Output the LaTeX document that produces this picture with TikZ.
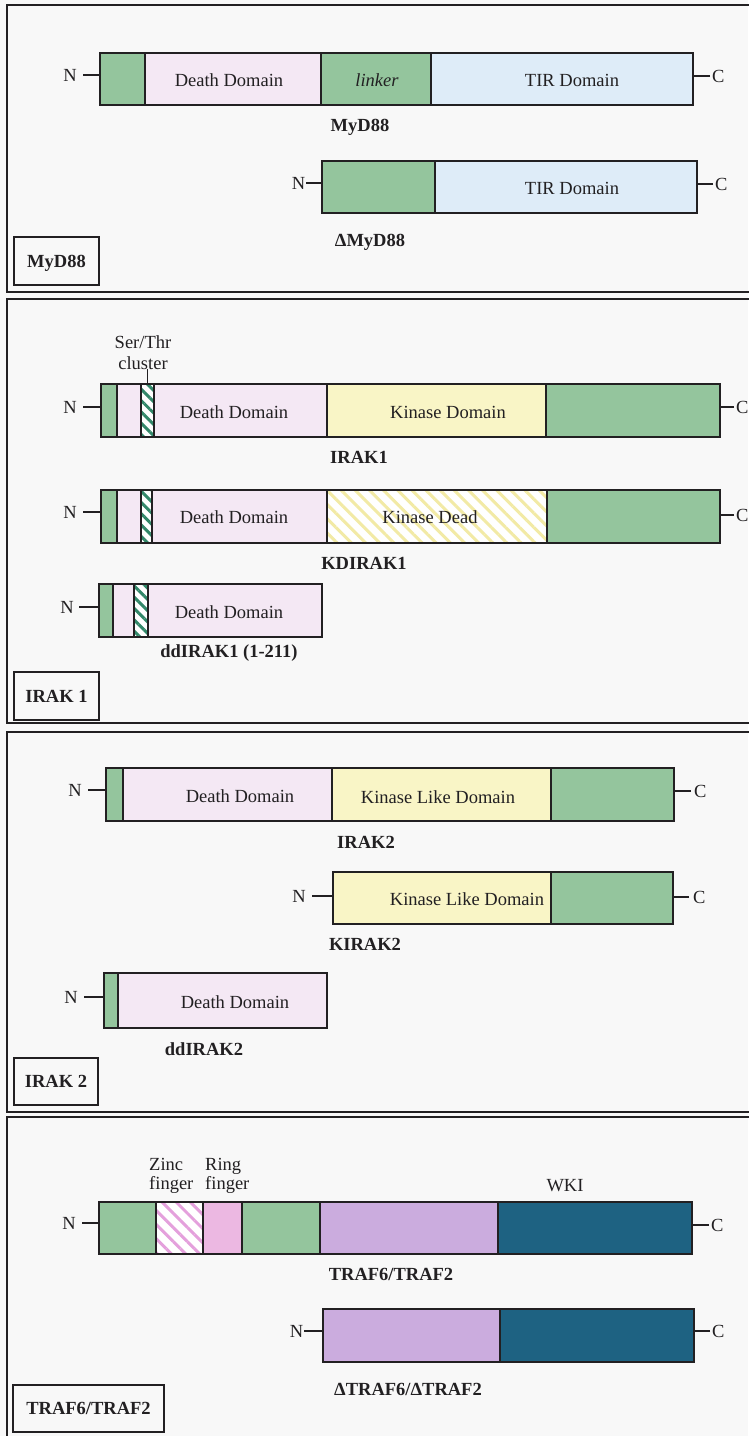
\documentclass[tikz,border=0pt]{standalone}
\usepackage{fontspec}
\setmainfont{Liberation Serif}
\usetikzlibrary{patterns.meta}
\definecolor{bgc}{RGB}{248,248,248}
\definecolor{ink}{RGB}{34,32,34}
\definecolor{grn}{RGB}{148,197,157}
\definecolor{ddp}{RGB}{244,232,244}
\definecolor{tirb}{RGB}{222,236,248}
\definecolor{kiny}{RGB}{249,245,198}
\definecolor{kdy}{RGB}{242,234,165}
\definecolor{stg}{RGB}{50,135,105}
\definecolor{trp}{RGB}{203,172,222}
\definecolor{wkib}{RGB}{30,98,130}
\definecolor{ringp}{RGB}{236,184,226}
\definecolor{zincp}{RGB}{228,160,220}
\tikzset{
  segbox/.style={draw=ink, line width=2.5pt, inner sep=0pt, outer sep=0pt, anchor=north west},
  gseg/.style={fill=grn},
  dseg/.style={fill=ddp},
  tseg/.style={fill=tirb},
  kseg/.style={fill=kiny},
  pseg/.style={fill=trp},
  wseg/.style={fill=wkib},
  rseg/.style={fill=ringp},
  sthatch/.style={preaction={fill=white}, pattern={Lines[angle=-45,distance=8pt,line width=3pt]}, pattern color=stg},
  kdhatch/.style={preaction={fill=white}, pattern={Lines[angle=-45,distance=10pt,line width=3pt]}, pattern color=kdy},
  znhatch/.style={preaction={fill=white}, pattern={Lines[angle=-45,distance=10pt,line width=3pt]}, pattern color=zincp},
  txt/.style={inner sep=0pt, anchor=base, font=\fontsize{18.5}{21}\selectfont, text=ink},
  itxt/.style={txt, font=\itshape\fontsize{18.5}{21}\selectfont},
  captxt/.style={txt, font=\bfseries\fontsize{18.5}{21}\selectfont},
  ltxt/.style={txt, anchor=base west},
  nterm/.style={inner xsep=6pt, inner ysep=0pt, anchor=east, font=\fontsize{18.5}{21}\selectfont, text=ink},
  cterm/.style={inner xsep=2pt, inner ysep=0pt, anchor=west, font=\fontsize{18.5}{21}\selectfont, text=ink},
  conn/.style={draw=ink, line width=2.5pt},
  frame/.style={draw=ink, line width=2.3pt},
  labbox/.style={draw=ink, line width=2.5pt, inner sep=0pt, text height=12.4pt, text depth=0pt, font=\bfseries\fontsize{18.5}{21}\selectfont, text=ink}
}
\newcommand{\protseg}[6]{\node[segbox,#2,minimum width={(#4-#3)*1pt},minimum height={(#6-#5)*1pt}] (#1) at (#3,#5) {};}
\begin{document}
\begin{tikzpicture}[x=1pt,y=-1pt]
\useasboundingbox (0,0) rectangle (748,1436);
\fill[bgc] (0,0) rectangle (748,1436);
% panel frames
\draw[frame] (7,5) rectangle (775,292);
\draw[frame] (7,299) rectangle (775,723);
\draw[frame] (7,732) rectangle (775,1112);
\draw[frame] (775,1445) -- (7,1445) -- (7,1117) -- (775,1117);

% ===== MyD88 panel =====
\protseg{m1a}{gseg}{100}{145}{53}{105}
\protseg{m1b}{dseg}{145}{321}{53}{105}
\protseg{m1c}{gseg}{321}{431}{53}{105}
\protseg{m1d}{tseg}{431}{693}{53}{105}
\node[txt] (m1bt) at (229,86) {Death Domain};
\node[itxt] (m1ct) at (377,86) {linker};
\node[txt] (m1dt) at (572,86) {TIR Domain};
\node[nterm] (nm1) at (83,75) {N};
\node[cterm] (cm1) at (710,76) {C};
\draw[conn] (nm1.east) -- (nm1.east -| m1a.west);
\draw[conn] (cm1.west) -- (cm1.west -| m1d.east);
\node[captxt] (capm1) at (360,131) {MyD88};

\protseg{m2a}{gseg}{322}{435}{161}{213}
\protseg{m2b}{tseg}{435}{697}{161}{213}
\node[txt] (m2bt) at (572,194) {TIR Domain};
\node[nterm, inner xsep=0.5pt] (nm2) at (306,183) {N};
\node[cterm] (cm2) at (713,184) {C};
\draw[conn] (nm2.east) -- (nm2.east -| m2a.west);
\draw[conn] (cm2.west) -- (cm2.west -| m2b.east);
\node[captxt] (capm2) at (370,246) {ΔMyD88};

\node[labbox, minimum width=85pt, minimum height=48pt] (lab1) at (56.5,261) {MyD88};

% ===== IRAK1 panel =====
\node[txt] (st1) at (143,348) {Ser/Thr};
\node[txt] (st2) at (143,369) {cluster};
\protseg{i1a}{gseg}{101}{117}{384}{437}
\protseg{i1b}{dseg}{117}{141}{384}{437}
\protseg{i1c}{sthatch}{141}{154}{384}{437}
\protseg{i1d}{dseg}{154}{327}{384}{437}
\protseg{i1e}{kseg}{327}{546}{384}{437}
\protseg{i1f}{gseg}{546}{720}{384}{437}
\draw[line width=1.8pt, draw=ink] (st2.base -| i1c.north) -- (i1c.north);
\node[txt] (i1dt) at (234,418) {Death Domain};
\node[txt] (i1et) at (448,418) {Kinase Domain};
\node[nterm] (ni1) at (83,407) {N};
\node[cterm] (ci1) at (734,407) {C};
\draw[conn] (ni1.east) -- (ni1.east -| i1a.west);
\draw[conn] (ci1.west) -- (ci1.west -| i1f.east);
\node[captxt] (capi1) at (359,463) {IRAK1};

\protseg{k1a}{gseg}{101}{117}{490}{543}
\protseg{k1b}{dseg}{117}{141}{490}{543}
\protseg{k1c}{sthatch}{141}{152}{490}{543}
\protseg{k1d}{dseg}{152}{327}{490}{543}
\protseg{k1e}{kdhatch}{327}{547}{490}{543}
\protseg{k1f}{gseg}{547}{720}{490}{543}
\node[txt] (k1dt) at (234,523) {Death Domain};
\node[txt] (k1et) at (430,523) {Kinase Dead};
\node[nterm] (nk1) at (83,512) {N};
\node[cterm] (ck1) at (734,515) {C};
\draw[conn] (nk1.east) -- (nk1.east -| k1a.west);
\draw[conn] (ck1.west) -- (ck1.west -| k1f.east);
\node[captxt] (capk1) at (364,569) {KDIRAK1};

\protseg{d1a}{gseg}{99}{113}{584}{637}
\protseg{d1b}{dseg}{113}{134}{584}{637}
\protseg{d1c}{sthatch}{134}{148}{584}{637}
\protseg{d1d}{dseg}{148}{322}{584}{637}
\node[txt] (d1dt) at (229,618) {Death Domain};
\node[nterm, inner xsep=5pt] (nd1) at (79,607) {N};
\draw[conn] (nd1.east) -- (nd1.east -| d1a.west);
\node[captxt] (capd1) at (229,657) {ddIRAK1 (1-211)};

\node[labbox, minimum width=85pt, minimum height=48pt] (lab2) at (56.5,696) {IRAK 1};

% ===== IRAK2 panel =====
\protseg{i2a}{gseg}{106}{123}{768}{821}
\protseg{i2b}{dseg}{123}{332}{768}{821}
\protseg{i2c}{kseg}{332}{551}{768}{821}
\protseg{i2d}{gseg}{551}{674}{768}{821}
\node[txt] (i2bt) at (240,802) {Death Domain};
\node[txt] (i2ct) at (438,803) {Kinase Like Domain};
\node[nterm] (ni2) at (88,790) {N};
\node[cterm, inner xsep=3pt] (ci2) at (691,791) {C};
\draw[conn] (ni2.east) -- (ni2.east -| i2a.west);
\draw[conn] (ci2.west) -- (ci2.west -| i2d.east);
\node[captxt] (capi2) at (366,848) {IRAK2};

\protseg{k2a}{kseg}{333}{551}{872}{924}
\protseg{k2b}{gseg}{551}{673}{872}{924}
\node[txt] (k2at) at (467,905) {Kinase Like Domain};
\node[nterm] (nk2) at (312,896) {N};
\node[cterm, inner xsep=4pt] (ck2) at (689,897) {C};
\draw[conn] (nk2.east) -- (nk2.east -| k2a.west);
\draw[conn] (ck2.west) -- (ck2.west -| k2b.east);
\node[captxt] (capk2) at (365,950) {KIRAK2};

\protseg{d2a}{gseg}{104}{118}{973}{1028}
\protseg{d2b}{dseg}{118}{327}{973}{1028}
\node[txt] (d2bt) at (235,1008) {Death Domain};
\node[nterm] (nd2) at (84,997) {N};
\draw[conn] (nd2.east) -- (nd2.east -| d2a.west);
\node[captxt] (capd2) at (204,1055) {ddIRAK2};

\node[labbox, minimum width=84pt, minimum height=47pt] (lab3) at (56,1081.5) {IRAK 2};

% ===== TRAF panel =====
\node[ltxt] (zf1) at (149,1170) {Zinc};
\node[ltxt] (zf2) at (149,1189) {finger};
\node[ltxt] (rf1) at (205,1170) {Ring};
\node[ltxt] (rf2) at (205,1189) {finger};
\node[txt] (wkit) at (565,1191) {WKI};
\protseg{t1a}{gseg}{99}{156}{1202}{1254}
\protseg{t1b}{znhatch}{156}{203}{1202}{1254}
\protseg{t1c}{rseg}{203}{242}{1202}{1254}
\protseg{t1d}{gseg}{242}{320}{1202}{1254}
\protseg{t1e}{pseg}{320}{498}{1202}{1254}
\protseg{t1f}{wseg}{498}{692}{1202}{1254}
\node[nterm] (nt1) at (82,1223) {N};
\node[cterm] (ct1) at (709,1225) {C};
\draw[conn] (nt1.east) -- (nt1.east -| t1a.west);
\draw[conn] (ct1.west) -- (ct1.west -| t1f.east);
\node[captxt] (capt1) at (391,1280) {TRAF6/TRAF2};

\protseg{t2a}{pseg}{323}{500}{1309}{1362}
\protseg{t2b}{wseg}{500}{694}{1309}{1362}
\node[nterm, inner xsep=0.5pt] (nt2) at (304,1331) {N};
\node[cterm] (ct2) at (710,1331) {C};
\draw[conn] (nt2.east) -- (nt2.east -| t2a.west);
\draw[conn] (ct2.west) -- (ct2.west -| t2b.east);
\node[captxt] (capt2) at (408,1395) {ΔTRAF6/ΔTRAF2};

\node[labbox, minimum width=151pt, minimum height=47pt] (lab4) at (88.5,1408.5) {TRAF6/TRAF2};
\end{tikzpicture}
\end{document}
